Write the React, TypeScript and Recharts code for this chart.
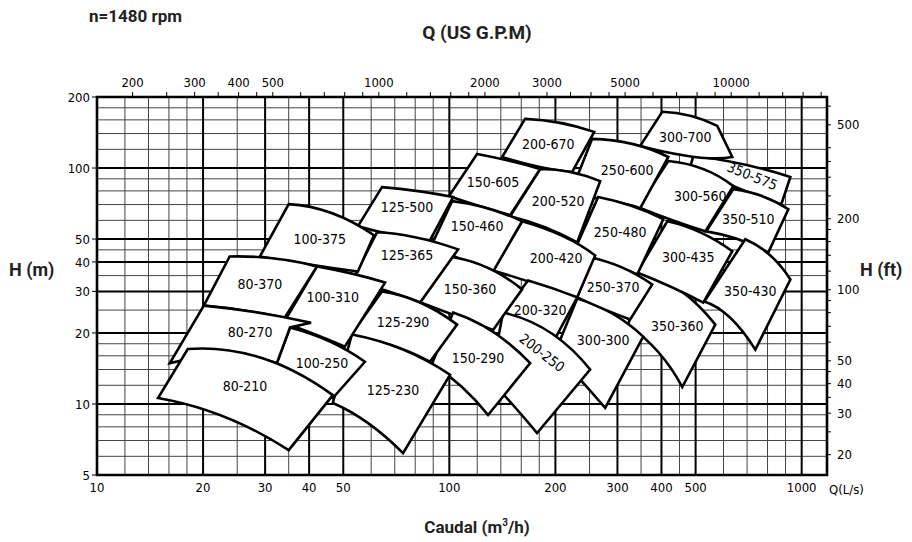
import React from 'react';
import { ScatterChart, Scatter, XAxis, YAxis, ReferenceLine, ReferenceArea } from 'recharts';

// unit links of the chart's secondary axes
const GPM_PER_UNIT = 15.85;
const FT_PER_M = 3.281;

const Q_DOMAIN = [10, 1180];
const H_DOMAIN = [5, 200];
const FT_DOMAIN = [H_DOMAIN[0] * FT_PER_M, H_DOMAIN[1] * FT_PER_M];

const Q_TICKS = [10, 20, 30, 40, 50, 100, 200, 300, 400, 500, 1000];
const H_TICKS = [5, 10, 20, 30, 40, 50, 100, 200];
const GPM_TICKS = [200, 250, 300, 350, 400, 450, 500, 600, 700, 800, 900, 1000, 1200, 1400, 1600, 1800, 2000, 2500, 3000, 3500, 4000, 4500, 5000, 6000, 7000, 8000, 9000, 10000, 12000, 14000, 16000, 18000];
const GPM_LABELS = [200, 300, 400, 500, 1000, 2000, 3000, 5000, 10000];
const FT_TICKS = [20, 25, 30, 35, 40, 45, 50, 60, 70, 80, 90, 100, 120, 140, 160, 180, 200, 250, 300, 350, 400, 500, 600];
const FT_LABELS = [20, 30, 40, 50, 100, 200, 500];

const Q_GRID = [12, 14, 16, 18, 25, 35, 60, 70, 80, 90, 120, 140, 160, 180, 250, 350, 450, 600, 700, 800, 900];
const Q_GRID_MAJOR = [20, 30, 40, 50, 100, 200, 300, 400, 500, 1000];
const H_GRID = [6, 7, 8, 9, 12, 14, 16, 18, 25, 35, 45, 60, 70, 80, 90, 120, 140, 160, 180];
const H_GRID_MAJOR = [10, 20, 30, 40, 50, 100];

type Pt = [number, number];
interface Tile { name: string; top: Pt[]; right?: Pt[]; bottom: Pt[]; label: Pt; angle?: number }

// top / bottom edges: left end, middle, right end  (Q, H)
// drawn in this order, so left and lower tiles overlap the ones before them
const TILES: Tile[] = [
  { name: '350-575', top: [[492.4, 112.5], [678.5, 104.0], [928.8, 91.6]], bottom: [[482.9, 101.0], [669.7, 81.4], [875.7, 70.3]], label: [724.4, 92.5], angle: 22 },
  { name: '350-510', top: [[639.7, 81.4], [773.4, 76.0], [916.7, 66.9]], bottom: [[536.2, 53.9], [661.0, 49.9], [804.3, 43.9]], label: [705.7, 60.7] },
  { name: '350-430', top: [[692.0, 49.9], [815.0, 42.6], [928.8, 33.7]], bottom: [[529.2, 27.2], [627.2, 23.2], [738.8, 17.0]], label: [715.0, 30.0] },
  { name: '350-360', top: [[348.2, 37.2], [452.3, 30.3], [568.6, 21.7]], bottom: [[321.8, 21.5], [391.7, 16.6], [458.3, 11.8]], label: [443.6, 21.3] },
  { name: '300-700', top: [[402.1, 173.1], [482.9, 166.4], [576.1, 150.9]], bottom: [[348.2, 124.1], [498.9, 111.4], [635.5, 111.4]], label: [467.4, 135.5] },
  { name: '300-560', top: [[418.2, 107.1], [525.7, 99.0], [639.7, 83.8]], bottom: [[343.7, 68.2], [429.3, 60.1], [532.6, 53.9]], label: [515.5, 76.0] },
  { name: '300-435', top: [[415.5, 59.5], [515.5, 53.4], [635.5, 44.4]], bottom: [[341.4, 36.1], [429.3, 31.2], [525.7, 26.9]], label: [476.6, 41.8] },
  { name: '300-300', top: [[230.6, 28.0], [289.9, 24.2], [355.1, 19.3]], bottom: [[199.7, 16.6], [239.8, 12.3], [276.9, 9.62]], label: [273.3, 18.7] },
  { name: '250-600', top: [[254.3, 132.9], [330.4, 126.5], [418.2, 111.4]], bottom: [[220.3, 77.5], [289.9, 72.4], [348.2, 67.6]], label: [319.7, 98.1] },
  { name: '250-480', top: [[264.5, 75.3], [330.4, 68.9], [404.7, 60.7]], bottom: [[226.1, 44.4], [289.9, 39.0], [341.4, 35.4]], label: [305.4, 53.4] },
  { name: '250-370', top: [[251.0, 41.8], [309.5, 37.9], [376.6, 32.1]], bottom: [[230.6, 28.3], [276.9, 25.1], [326.1, 22.8]], label: [291.7, 31.2] },
  { name: '200-670', top: [[164.1, 161.6], [206.3, 155.4], [257.7, 142.3]], bottom: [[141.2, 111.4], [181.0, 101.0], [223.2, 96.2]], label: [190.8, 126.5] },
  { name: '200-520', top: [[181.0, 99.0], [220.3, 96.2], [268.0, 88.0]], bottom: [[148.8, 62.5], [187.1, 56.1], [230.6, 48.4]], label: [203.6, 72.4] },
  { name: '200-420', top: [[160.9, 59.5], [210.4, 51.4], [259.4, 42.6]], bottom: [[133.1, 36.8], [175.2, 32.4], [230.6, 28.3]], label: [201.0, 41.4] },
  { name: '200-320', top: [[167.3, 33.4], [197.1, 30.9], [230.6, 28.3]], bottom: [[142.1, 24.2], [169.6, 21.7], [201.0, 19.3]], label: [181.0, 25.1] },
  { name: '200-250', top: [[142.1, 24.4], [193.3, 20.1], [251.0, 14.0]], bottom: [[130.5, 12.65], [150.7, 10.0], [177.5, 7.53]], label: [183.4, 16.5], angle: 38 },
  { name: '150-605', top: [[119.9, 114.7], [148.8, 107.1], [181.0, 99.0]], bottom: [[99.8, 76.0], [122.2, 68.9], [148.8, 63.1]], label: [133.1, 87.2] },
  { name: '150-460', top: [[101.8, 72.4], [128.0, 67.6], [160.9, 59.5]], bottom: [[89.3, 47.5], [110.8, 40.2], [133.1, 36.4]], label: [119.9, 56.6] },
  { name: '150-360', top: [[99.8, 42.2], [128.0, 37.9], [160.9, 30.6]], bottom: [[81.5, 27.2], [103.8, 23.7], [133.1, 20.6]], label: [114.5, 30.6] },
  { name: '150-290', top: [[102.5, 24.4], [133.1, 20.2], [169.6, 14.9]], bottom: [[89.3, 14.8], [108.7, 11.8], [128.8, 8.98]], label: [120.6, 15.7] },
  { name: '125-500', top: [[64.4, 83.0], [81.5, 79.8], [102.5, 75.3]], bottom: [[55.0, 56.6], [70.1, 51.9], [88.1, 49.4]], label: [75.8, 68.2] },
  { name: '125-365', top: [[62.3, 53.4], [79.9, 50.9], [105.9, 45.2]], bottom: [[52.9, 33.0], [65.7, 30.3], [82.6, 26.9]], label: [75.8, 42.6] },
  { name: '125-290', top: [[64.4, 30.0], [82.6, 26.9], [105.2, 21.7]], bottom: [[52.2, 19.3], [67.9, 17.8], [88.1, 15.1]], label: [73.9, 22.3] },
  { name: '125-230', top: [[52.9, 19.7], [73.9, 17.0], [100.5, 13.3]], bottom: [[46.7, 10.1], [58.8, 8.3], [73.9, 6.19]], label: [69.2, 11.5] },
  { name: '100-375', top: [[35.0, 70.3], [46.4, 64.4], [61.1, 51.9]], bottom: [[29.0, 42.2], [40.2, 39.0], [55.0, 36.4]], label: [42.9, 49.9] },
  { name: '100-310', top: [[42.1, 38.3], [52.9, 35.7], [65.7, 32.7]], bottom: [[33.9, 22.1], [42.4, 19.5], [50.5, 17.5]], label: [46.7, 28.3] },
  { name: '100-250', top: [[35.3, 21.1], [45.8, 18.4], [57.6, 15.1]], bottom: [[32.4, 14.9], [38.9, 12.9], [46.7, 10.6]], label: [43.5, 14.9] },
  { name: '80-370', top: [[23.8, 42.2], [31.8, 41.4], [42.1, 38.3]], bottom: [[20.1, 26.1], [26.3, 24.9], [34.1, 23.2]], label: [29.0, 32.1] },
  { name: '80-270', top: [[20.1, 26.1], [28.6, 24.4], [40.5, 22.1]], right: [[35.3, 21.1]], bottom: [[16.1, 14.9], [23.5, 16.0], [32.4, 14.9]], label: [27.2, 20.1] },
  { name: '80-210', top: [[18.1, 17.1], [29.2, 15.7], [46.7, 10.9]], bottom: [[14.9, 10.6], [23.1, 8.8], [35.0, 6.37]], label: [26.3, 11.9] },
];

const CAD_FONT = "'DejaVu Sans Condensed', 'DejaVu Sans', sans-serif";
const TITLE_FONT = "Roboto, 'Noto Sans', sans-serif";
const tickStyle = { fill: '#000', fontSize: 13, fontFamily: CAD_FONT };

const outline = (t: Tile) =>
  [...t.top, ...(t.right || []), t.bottom[2], t.bottom[1], t.bottom[0]].map(([q, h]) => ({ q, h }));

const labelData = TILES.map((t) => ({ q: t.label[0], h: t.label[1], name: t.name, angle: t.angle || 0 }));

// GPM scale along the top edge, placed on the flow axis
const gpmData = GPM_TICKS.map((g) => ({ q: g / GPM_PER_UNIT, h: H_DOMAIN[1], gpm: g }));

// control point so the quadratic passes through the middle point
const ctrl = (a: any, m: any, b: any) => ({ x: 2 * m.x - (a.x + b.x) / 2, y: 2 * m.y - (a.y + b.y) / 2 });

const TileOutline = ({ points, extra }: { points: any[]; extra: number }) => {
  if (!points || points.length < 6) return null;
  const [t0, t1, t2] = points;
  const mids = points.slice(3, 3 + extra);
  const [b2, b1, b0] = points.slice(3 + extra);
  const c1 = ctrl(t0, t1, t2);
  const c2 = ctrl(b2, b1, b0);
  let d = `M${t0.x},${t0.y}Q${c1.x},${c1.y} ${t2.x},${t2.y}`;
  mids.forEach((p) => { d += `L${p.x},${p.y}`; });
  d += `L${b2.x},${b2.y}Q${c2.x},${c2.y} ${b0.x},${b0.y}Z`;
  return <path d={d} fill="#fff" stroke="#000" strokeWidth={2.6} strokeLinejoin="miter" />;
};

const TileLabel = (props: any) => {
  const { cx, cy, payload } = props;
  return (
    <text x={cx} y={cy} textAnchor="middle" dominantBaseline="central" fontFamily={CAD_FONT} fontSize={14} fill="#000"
      transform={payload.angle ? `rotate(${payload.angle} ${cx} ${cy})` : undefined}>
      {payload.name}
    </text>
  );
};

const GpmTick = (props: any) => {
  const { cx, cy, payload } = props;
  return (
    <g>
      <line x1={cx} y1={cy} x2={cx} y2={cy - 5} stroke="#000" strokeWidth={1} />
      {GPM_LABELS.includes(payload.gpm) && (
        <text x={cx} y={cy - 10} textAnchor="middle" fontFamily={CAD_FONT} fontSize={13} fill="#000">{payload.gpm}</text>
      )}
    </g>
  );
};

const title = (extra: React.CSSProperties): React.CSSProperties => ({
  position: 'absolute', fontFamily: TITLE_FONT, fontWeight: 700, color: '#222', whiteSpace: 'nowrap', lineHeight: 1, ...extra,
});

export default function App() {
  return (
    <div style={{ position: 'absolute', left: 0, top: 0, width: 912, height: 542, background: '#fff' }}>
      <ScatterChart width={912} height={542} margin={{ top: 97, right: 35, bottom: 37, left: 57 }}>
        <XAxis xAxisId="q" dataKey="q" type="number" scale="log" domain={Q_DOMAIN} ticks={Q_TICKS}
          interval={0} tickLine={false} axisLine={false} height={30} tick={tickStyle} />
        <YAxis yAxisId="h" dataKey="h" type="number" scale="log" domain={H_DOMAIN} ticks={H_TICKS}
          interval={0} axisLine={false} tickLine={{ stroke: '#000' }} tickSize={5} width={40} tick={tickStyle} />
        <YAxis yAxisId="ft" orientation="right" type="number" scale="log" domain={FT_DOMAIN} allowDataOverflow ticks={FT_TICKS}
          interval={0} tickFormatter={(v) => (FT_LABELS.includes(v) ? String(v) : '')}
          axisLine={false} tickLine={{ stroke: '#000' }} tickSize={4} tickMargin={6} width={50} tick={tickStyle} />

        {Q_GRID.map((v) => (
          <ReferenceLine key={`qg${v}`} xAxisId="q" yAxisId="h" x={v} stroke="#444" strokeWidth={1} zIndex={-10} />
        ))}
        {H_GRID.map((v) => (
          <ReferenceLine key={`hg${v}`} xAxisId="q" yAxisId="h" y={v} stroke="#444" strokeWidth={1} zIndex={-10} />
        ))}
        {Q_GRID_MAJOR.map((v) => (
          <ReferenceLine key={`qm${v}`} xAxisId="q" yAxisId="h" x={v} stroke="#000" strokeWidth={2} zIndex={-5} />
        ))}
        {H_GRID_MAJOR.map((v) => (
          <ReferenceLine key={`hm${v}`} xAxisId="q" yAxisId="h" y={v} stroke="#000" strokeWidth={2} zIndex={-5} />
        ))}

        {TILES.map((t) => (
          <Scatter key={t.name} name={t.name} xAxisId="q" yAxisId="h" data={outline(t)} isAnimationActive={false}
            legendType="none" shape={() => <g />}
            line={(p: any) => <TileOutline points={p.points} extra={(t.right || []).length} />} />
        ))}
        <Scatter name="labels" xAxisId="q" yAxisId="h" data={labelData} isAnimationActive={false}
          legendType="none" shape={TileLabel} zIndex={700} />
        <Scatter name="gpm" xAxisId="q" yAxisId="h" data={gpmData} isAnimationActive={false}
          legendType="none" shape={GpmTick} zIndex={700} />

        <ReferenceArea xAxisId="q" yAxisId="h" x1={Q_DOMAIN[0]} x2={Q_DOMAIN[1]} y1={H_DOMAIN[0]} y2={H_DOMAIN[1]}
          fill="none" fillOpacity={0} stroke="#000" strokeWidth={2.6} zIndex={800} />
      </ScatterChart>

      <div style={title({ left: 89, top: 8, fontSize: 17 })}>n=1480 rpm</div>
      <div style={title({ left: 0, width: 954, top: 23, fontSize: 19, textAlign: 'center' })}>Q (US G.P.M)</div>
      <div style={title({ left: 9, top: 261, fontSize: 18 })}>H (m)</div>
      <div style={title({ left: 860, top: 261, fontSize: 18 })}>H (ft)</div>
      <div style={title({ left: 0, width: 954, top: 518, fontSize: 17, textAlign: 'center' })}>
        Caudal (m<sup style={{ fontSize: 10 }}>3</sup>/h)
      </div>
      <div style={{ position: 'absolute', left: 829, top: 482, fontFamily: CAD_FONT, fontSize: 13, color: '#000' }}>Q(L/s)</div>
    </div>
  );
}
